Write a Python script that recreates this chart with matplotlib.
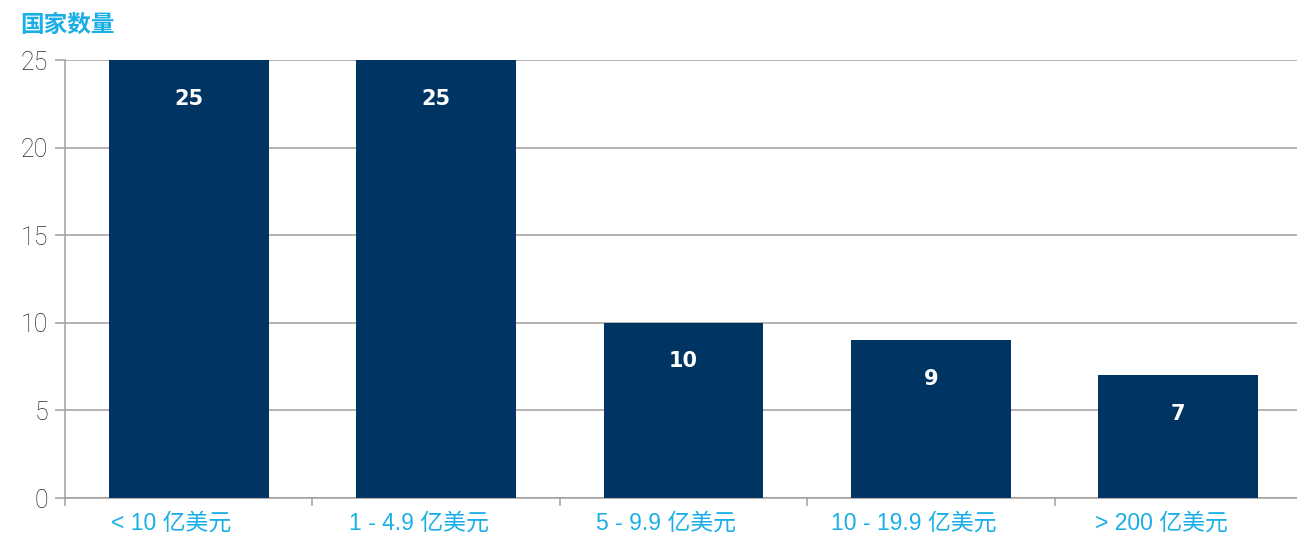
import matplotlib.pyplot as plt
import numpy as np

categories = ["< 10 亿美元", "1 - 4.9 亿美元", "5 - 9.9 亿美元", "10 - 19.9 亿美元", "> 200 亿美元"]
counts = [25, 25, 10, 9, 7]
y_ticks = [0, 5, 10, 15, 20, 25]

navy = "#003462"
cyan = "#1aaee6"
grey = "#a09d9a"
fam = ["Liberation Sans", "Noto Sans CJK SC", "DejaVu Sans"]

fig = plt.figure(figsize=(12.97, 5.35), dpi=100)
ax = fig.add_axes([65 / 1297, 1 - 498 / 535, 1237 / 1297, (498 - 60) / 535])

x = np.arange(len(categories))
ax.bar(x, counts, width=0.646, color=navy, zorder=3)

for xi, v in zip(x, counts):
    ax.text(xi, v - 2.2, str(v), ha="center", va="center", color="white",
            fontsize=15, fontweight="bold", family="DejaVu Sans", zorder=4)

ax.set_xlim(-0.5, len(categories) - 0.5)
ax.set_ylim(0, 25)
ax.set_yticks(y_ticks)
ax.set_yticklabels([str(t) for t in y_ticks], family=["Roboto", "DejaVu Sans"], fontsize=18,
                   fontweight="light", color="#2a2a2a")
ax.yaxis.grid(True, color=grey, linewidth=1.1, zorder=0)

ax.set_xticks(np.arange(len(categories) + 1) - 0.5, minor=False)
ax.set_xticklabels([""] * (len(categories) + 1))
ax.tick_params(axis="x", direction="out", length=6, color=grey, width=1.1)
ax.tick_params(axis="y", direction="out", length=7, color=grey, width=1.1, pad=5)
# category labels sit a little left of the bar centres in the original
ax.set_xticks(x - 0.07, minor=True)
ax.set_xticklabels(categories, minor=True, family=fam, fontsize=16.5, color=cyan)
ax.tick_params(axis="x", which="minor", length=0, pad=10)

for s in ["top", "right"]:
    ax.spines[s].set_visible(False)
ax.spines["left"].set_color(grey)
ax.spines["bottom"].set_color(grey)
ax.spines["left"].set_linewidth(1.1)
ax.spines["bottom"].set_linewidth(1.1)

fig.text(20 / 1297, 1 - 25 / 535, "国家数量", color=cyan, fontsize=17, fontweight="bold",
         family=fam, ha="left", va="center")

fig.savefig("out.png", dpi=100)
